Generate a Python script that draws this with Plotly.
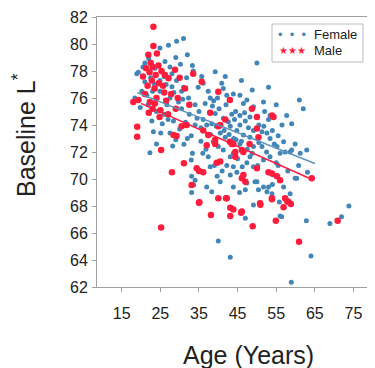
import plotly.graph_objects as go

# ---- data (age in years, baseline L*) ----
female_age = [27.1, 29.2, 31.0, 24.9, 50.0, 33.3, 33.5, 26.2, 39.2, 41.8, 35.7, 36.1, 19.3, 21.0, 18.9, 18.4,
              53.0, 48.8, 61.0, 62.0, 59.0, 59.0, 61.2, 62.9, 60.8, 59.9, 28.0, 29.2, 31.8, 28.0, 30.5, 27.5,
              29.7, 32.3, 26.7, 20.2, 21.5, 24.9, 34.0, 23.6, 24.9, 37.4, 37.9, 36.6, 40.9, 41.3, 42.2, 43.9,
              45.6, 46.5, 47.4, 51.7, 49.1, 36.1, 37.0, 38.3, 41.3, 42.6, 43.1, 44.8, 45.6, 46.5, 48.2, 49.1,
              51.3, 52.6, 53.4, 55.2, 56.0, 57.3, 58.6, 56.9, 57.7, 53.4, 53.0, 48.2, 45.6, 49.1, 48.2, 47.4,
              51.7, 53.4, 43.1, 43.9, 44.8, 37.4, 37.9, 40.5, 43.9, 47.4, 49.5, 50.4, 51.7, 53.0, 53.9, 56.9,
              58.6, 37.0, 38.3, 39.2, 40.5, 41.8, 38.7, 40.0, 41.3, 45.6, 42.2, 43.1, 47.0, 50.0, 52.6, 49.1,
              47.0, 56.4, 60.3, 55.5, 59.9, 63.1, 55.0, 51.3, 49.1, 54.3, 43.9, 56.0, 62.8, 73.8, 71.9, 68.9,
              40.0, 43.1, 64.0, 58.9, 22.3, 28.2, 31.1, 33.1, 34.0, 33.6, 33.1, 23.2, 25.1, 33.3, 33.0, 28.4,
              25.5, 27.0, 30.0, 24.0, 26.0, 30.5, 32.5, 34.5, 31.0, 22.5, 27.5, 35.0, 33.0, 20.5, 22.0, 25.5,
              26.5, 23.0, 21.8, 29.0, 30.2, 32.0, 34.8, 38.5, 39.8, 44.5, 47.0, 50.5, 52.0, 55.0, 56.5, 44.0,
              38.0, 35.5, 36.0, 39.0, 41.0, 45.5, 46.2, 52.5, 54.5, 58.0, 55.8, 31.5, 29.0, 27.5, 24.0, 46.0,
              38.8, 40.2, 42.0, 43.5, 44.2, 46.8, 47.8, 39.5, 41.5, 42.8, 44.6, 46.0, 47.5, 48.8, 50.5, 51.8,
              54.0, 35.5, 34.0, 32.0, 36.8, 39.7, 45.0, 50.2, 55.5, 54.0, 21.0, 23.5, 26.0, 28.5, 30.8, 22.8,
              19.8]
female_L = [79.9, 80.2, 80.4, 79.7, 78.6, 78.4, 78.0, 78.7, 77.95, 77.6, 77.6, 77.1, 77.9, 77.2, 77.8, 76.0,
            76.8, 76.6, 75.85, 75.2, 74.1, 72.15, 71.9, 72.15, 71.0, 70.05, 77.8, 77.3, 77.5, 76.84, 76.5, 76.0,
            75.7, 76.0, 75.5, 76.5, 76.2, 76.5, 75.5, 78.2, 77.3, 76.5, 76.0, 75.6, 77.1, 76.7, 76.2, 76.3,
            76.2, 75.6, 75.85, 75.7, 75.35, 74.4, 74.0, 74.1, 74.5, 74.25, 73.9, 73.6, 74.0, 73.26, 73.1, 73.6,
            73.5, 73.4, 73.0, 72.4, 71.9, 72.0, 72.0, 72.76, 74.7, 74.7, 74.4, 74.6, 74.7, 72.4, 71.65, 71.2,
            71.4, 71.65, 71.65, 70.9, 70.5, 71.65, 70.9, 69.8, 69.4, 69.7, 69.8, 69.2, 69.4, 69.4, 68.9, 69.4,
            68.9, 69.4, 69.06, 74.86, 73.4, 73.1, 72.76, 72.4, 72.15, 72.6, 71.0, 70.3, 69.2, 69.8, 69.06, 68.07,
            67.1, 67.2, 70.05, 73.2, 72.6, 70.5, 71.2, 72.4, 70.9, 70.3, 71.9, 67.26, 66.9, 68.0, 67.2, 66.7,
            65.4, 64.2, 64.3, 62.35, 71.95, 72.44, 72.57, 70.2, 69.9, 69.55, 69.0, 73.5, 73.4, 71.9, 71.4, 74.3,
            74.1, 74.4, 73.7, 75.0, 74.8, 75.2, 74.8, 74.5, 76.8, 77.5, 78.3, 75.0, 73.2, 78.3, 78.9, 77.9,
            77.0, 76.5, 75.5, 79.0, 78.5, 79.2, 76.8, 75.4, 76.0, 75.0, 74.3, 74.0, 75.0, 75.5, 74.0, 73.0,
            73.3, 72.8, 71.9, 71.0, 70.6, 69.0, 70.9, 72.0, 72.6, 70.6, 68.3, 74.2, 72.9, 73.4, 72.6, 77.3,
            75.8, 75.2, 75.5, 74.8, 74.4, 74.9, 73.8, 73.9, 73.6, 73.3, 72.9, 72.8, 72.2, 71.9, 72.7, 73.9,
            73.6, 73.8, 74.0, 73.0, 72.2, 70.2, 71.5, 71.0, 71.0, 69.6, 78.6, 77.0, 77.6, 76.4, 75.9, 74.3,
            75.3]

male_age = [23.2, 23.2, 21.9, 24.1, 22.5, 23.0, 24.5, 22.2, 23.8, 25.3, 22.8, 24.6, 21.7, 23.5, 25.7, 28.8,
            27.1, 31.4, 19.3, 22.3, 23.6, 18.0, 35.7, 40.0, 43.0, 48.7, 19.0, 19.0, 21.0, 24.0, 26.5, 22.0,
            25.0, 27.0, 29.0, 26.0, 28.4, 29.2, 25.2, 31.1, 28.0, 34.4, 35.0, 36.1, 33.1, 35.0, 30.5, 31.8,
            39.2, 37.9, 40.5, 40.0, 41.8, 37.0, 43.0, 43.5, 43.9, 46.1, 46.5, 48.1, 50.0, 50.4, 44.4, 44.4,
            53.9, 54.3, 50.0, 39.6, 53.0, 53.9, 56.0, 46.5, 46.1, 57.3, 64.2, 40.5, 55.2, 47.0, 53.9, 50.8,
            58.2, 42.2, 36.1, 37.4, 39.2, 50.0, 35.1, 40.0, 42.0, 43.1, 43.9, 38.1, 43.1, 45.9, 50.9, 53.9,
            57.8, 58.8, 56.9, 54.9, 48.9, 70.9, 25.2, 60.9, 46.1, 20.5, 21.3, 26.2, 27.8, 29.5, 23.0, 24.8,
            32.5, 30.0, 33.5]
male_L = [81.28, 79.85, 79.2, 79.3, 78.6, 78.3, 78.4, 77.9, 77.7, 78.0, 77.3, 77.1, 76.9, 76.7, 76.9, 78.1,
          77.46, 76.7, 75.85, 75.7, 75.6, 75.7, 77.2, 76.47, 75.85, 75.2, 73.87, 73.13, 76.3, 76.0, 75.8, 74.9,
          75.1, 74.8, 75.2, 76.4, 73.26, 73.19, 72.15, 71.16, 70.5, 70.8, 70.6, 70.5, 69.56, 68.24, 73.9, 74.0,
          72.6, 74.9, 74.0, 73.9, 74.4, 72.5, 72.76, 72.6, 72.6, 72.15, 72.0, 72.6, 73.75, 73.1, 72.0, 71.65,
          74.7, 74.6, 74.6, 71.2, 70.5, 70.4, 69.9, 70.3, 70.05, 68.57, 70.05, 71.3, 70.2, 69.8, 68.57, 68.2,
          68.3, 68.57, 73.6, 73.26, 72.9, 70.8, 68.27, 68.57, 68.57, 67.87, 67.75, 67.33, 67.26, 67.5, 68.1, 68.5,
          68.37, 68.15, 67.9, 66.9, 66.5, 66.9, 66.4, 65.35, 67.6, 77.6, 78.2, 77.7, 76.3, 76.0, 75.2, 74.6,
          75.5, 77.5, 77.8]

# fitted regression lines (end points)
fit_age_female = [19, 65]
fit_L_female = [76.4, 71.15]
fit_age_male = [20, 64]
fit_L_male = [75.6, 70.0]

x_ticks = [15, 25, 35, 45, 55, 65, 75]
y_ticks = [62, 64, 66, 68, 70, 72, 74, 76, 78, 80, 82]

BLUE = "#4286b8"
RED = "#ff1c3c"
FONT = "Arial, Liberation Sans, Helvetica, sans-serif"

# the page body keeps an 8 px default margin, so the figure is 8 px smaller
OFF = 8
L_M, T_M, PW, PH = 97 - OFF, 17 - OFF, 270, 270
W, H = 375 - OFF, 368 - OFF


def px(xp):  # page x pixel -> paper
    return (xp - 97) / PW


def py(yp):  # page y pixel -> paper
    return (287 - yp) / PH


fig = go.Figure()
fig.add_trace(go.Scatter(x=female_age, y=female_L, mode="markers", name="Female",
                         marker=dict(color=BLUE, size=5, line=dict(width=0))))
fig.add_trace(go.Scatter(x=male_age, y=male_L, mode="markers", name="Male",
                         marker=dict(color=RED, size=6.5, line=dict(width=0))))
fig.add_trace(go.Scatter(x=fit_age_female, y=fit_L_female, mode="lines", showlegend=False,
                         line=dict(color="#5d93bf", width=1.5)))
fig.add_trace(go.Scatter(x=fit_age_male, y=fit_L_male, mode="lines", showlegend=False,
                         line=dict(color=RED, width=1.5)))

axis_common = dict(showgrid=False, zeroline=False, showline=True, linecolor="#a0a0a0", linewidth=1,
                   mirror=True, ticks="outside", ticklen=4, tickcolor="#a0a0a0",
                   tickfont=dict(family=FONT, size=16, color="#222"))
fig.update_xaxes(range=[8.6, 78.5], tickvals=x_ticks, ticklabelstandoff=8, automargin=False, **axis_common)
fig.update_yaxes(range=[62, 82], tickvals=y_ticks, ticklabelstandoff=1, automargin=False, **axis_common)

# legend box drawn as layout elements
fig.add_shape(type="rect", xref="paper", yref="paper", x0=px(272), x1=px(363), y0=py(62), y1=py(24),
              line=dict(color="#bdbdbd", width=1), fillcolor="white", layer="above")
fig.add_annotation(xref="paper", yref="paper", x=px(292), y=py(35), text="•  •  •", showarrow=False,
                   font=dict(family=FONT, size=13, color=BLUE), xanchor="center", yanchor="middle")
fig.add_annotation(xref="paper", yref="paper", x=px(292), y=py(51), text="★★★", showarrow=False,
                   font=dict(family="DejaVu Sans", size=10, color=RED), xanchor="center", yanchor="middle")
fig.add_annotation(xref="paper", yref="paper", x=px(312), y=py(35), text="Female", showarrow=False,
                   font=dict(family=FONT, size=13, color="#222"), xanchor="left", yanchor="middle")
fig.add_annotation(xref="paper", yref="paper", x=px(312), y=py(51), text="Male", showarrow=False,
                   font=dict(family=FONT, size=13, color="#222"), xanchor="left", yanchor="middle")

# axis titles
fig.add_annotation(xref="paper", yref="paper", x=px(248), y=py(355),
                   text="Age (Years)", showarrow=False, xanchor="center", yanchor="middle",
                   font=dict(family=FONT, size=25, color="#222"))
fig.add_annotation(xref="paper", yref="paper", x=px(24), y=py(135),
                   text="Baseline L<sup>*</sup>", showarrow=False, xanchor="center", yanchor="middle",
                   textangle=-90, font=dict(family=FONT, size=25, color="#222"))

fig.update_layout(width=W, height=H, margin=dict(l=L_M, r=W - L_M - PW, t=T_M, b=H - T_M - PH, pad=0),
                  plot_bgcolor="white", paper_bgcolor="white", showlegend=False)

fig.write_html("out.html")
